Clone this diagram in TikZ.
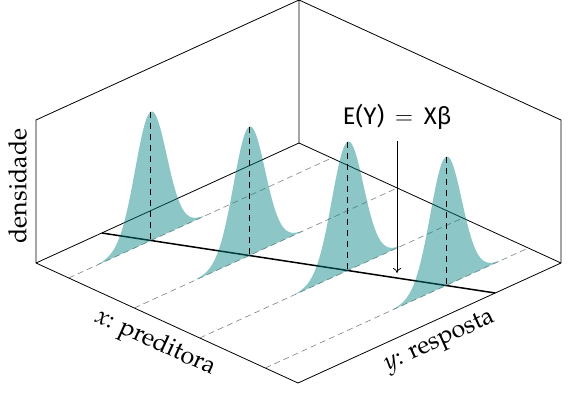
\documentclass[tikz,border=0pt]{standalone}
\usepackage[T1]{fontenc}
\usepackage{fontspec}
\newfontfamily\eqfont{Fira Sans}
\newcommand\palfont{\fontencoding{T1}\fontfamily{ppl}\selectfont}
\usetikzlibrary{arrows.meta}
\definecolor{distfill}{RGB}{0,128,128}
\begin{document}
\begin{tikzpicture}[
  boxline/.style={line width=0.8pt, black},
  guide/.style={gray, line width=0.6pt, dash pattern=on 6pt off 4pt},
  meanline/.style={black, line width=0.9pt, dash pattern=on 6pt off 5pt},
  regline/.style={black, line width=1.5pt},
  dens/.style={fill=distfill, fill opacity=0.45},
  lbl/.style={font=\palfont\fontsize{25}{30}\selectfont, inner sep=0pt},
]
\useasboundingbox (0,0) rectangle (568pt,392pt);
\begin{scope}[shift={(36pt,129pt)}, x={(262pt,-120pt)}, y={(263pt,120pt)}, z={(0pt,143pt)}]
  \coordinate (LB) at (0,0,0);
  \coordinate (B)  at (1,0,0);
  \coordinate (BB) at (0,1,0);
  \coordinate (RB) at (1,1,0);
  \coordinate (LT) at (0,0,1);
  \coordinate (T)  at (0,1,1);
  \coordinate (RT) at (1,1,1);
  \draw[boxline] (LB) -- (B) -- (RB);
  \draw[boxline] (LB) -- (BB) -- (RB);
  \draw[boxline] (LB) -- (LT) -- (T) -- (BB);
  \draw[boxline] (T) -- (RT) -- (RB);
  \foreach \a in {0.125,0.375,0.625,0.875}
    \draw[guide] (\a,0,0) -- (\a,1,0);
  \coordinate (R0) at (0,0.25,0);
  \coordinate (R1) at (1,0.75,0);
  \draw[regline] (R0) -- (R1);
  \foreach \a in {0.125,0.375,0.625,0.875} {
    \pgfmathsetmacro\m{0.25+0.5*\a}
    \pgfmathsetmacro\lo{\m-0.2}
    \pgfmathsetmacro\hi{\m+0.2}
    \fill[dens] (\a,\lo,0) -- plot[domain=\lo:\hi, samples=90, smooth] (\a,\x,{0.9*exp(-((\x-\m)^2)/(2*0.06*0.06))}) -- (\a,\hi,0) -- cycle;
    \draw[meanline] (\a,\m,0.9) -- (\a,\m,0);
  }
\end{scope}
\node[lbl, rotate=90] (dens) at (17.5pt,206pt) {densidade};
\node[lbl, rotate=-24.6] (xlab) at (155pt,49pt) {{\itshape x}: preditora};
\node[lbl, rotate=24.5] (ylab) at (440pt,50pt) {{\itshape y}: resposta};
\node[font=\eqfont\fontsize{24}{28}\selectfont, anchor=base, inner sep=0pt] (eq) at (397pt,267.5pt) {E(Y)\hspace{0.45em}$=$\hspace{0.45em}Xβ};
\coordinate (atop) at (397pt,251pt);
\coordinate (atip) at (397pt,119pt);
\draw[line width=0.8pt, -{To[length=5pt,width=8pt]}] (atop) -- (atip);
\end{tikzpicture}
\end{document}
